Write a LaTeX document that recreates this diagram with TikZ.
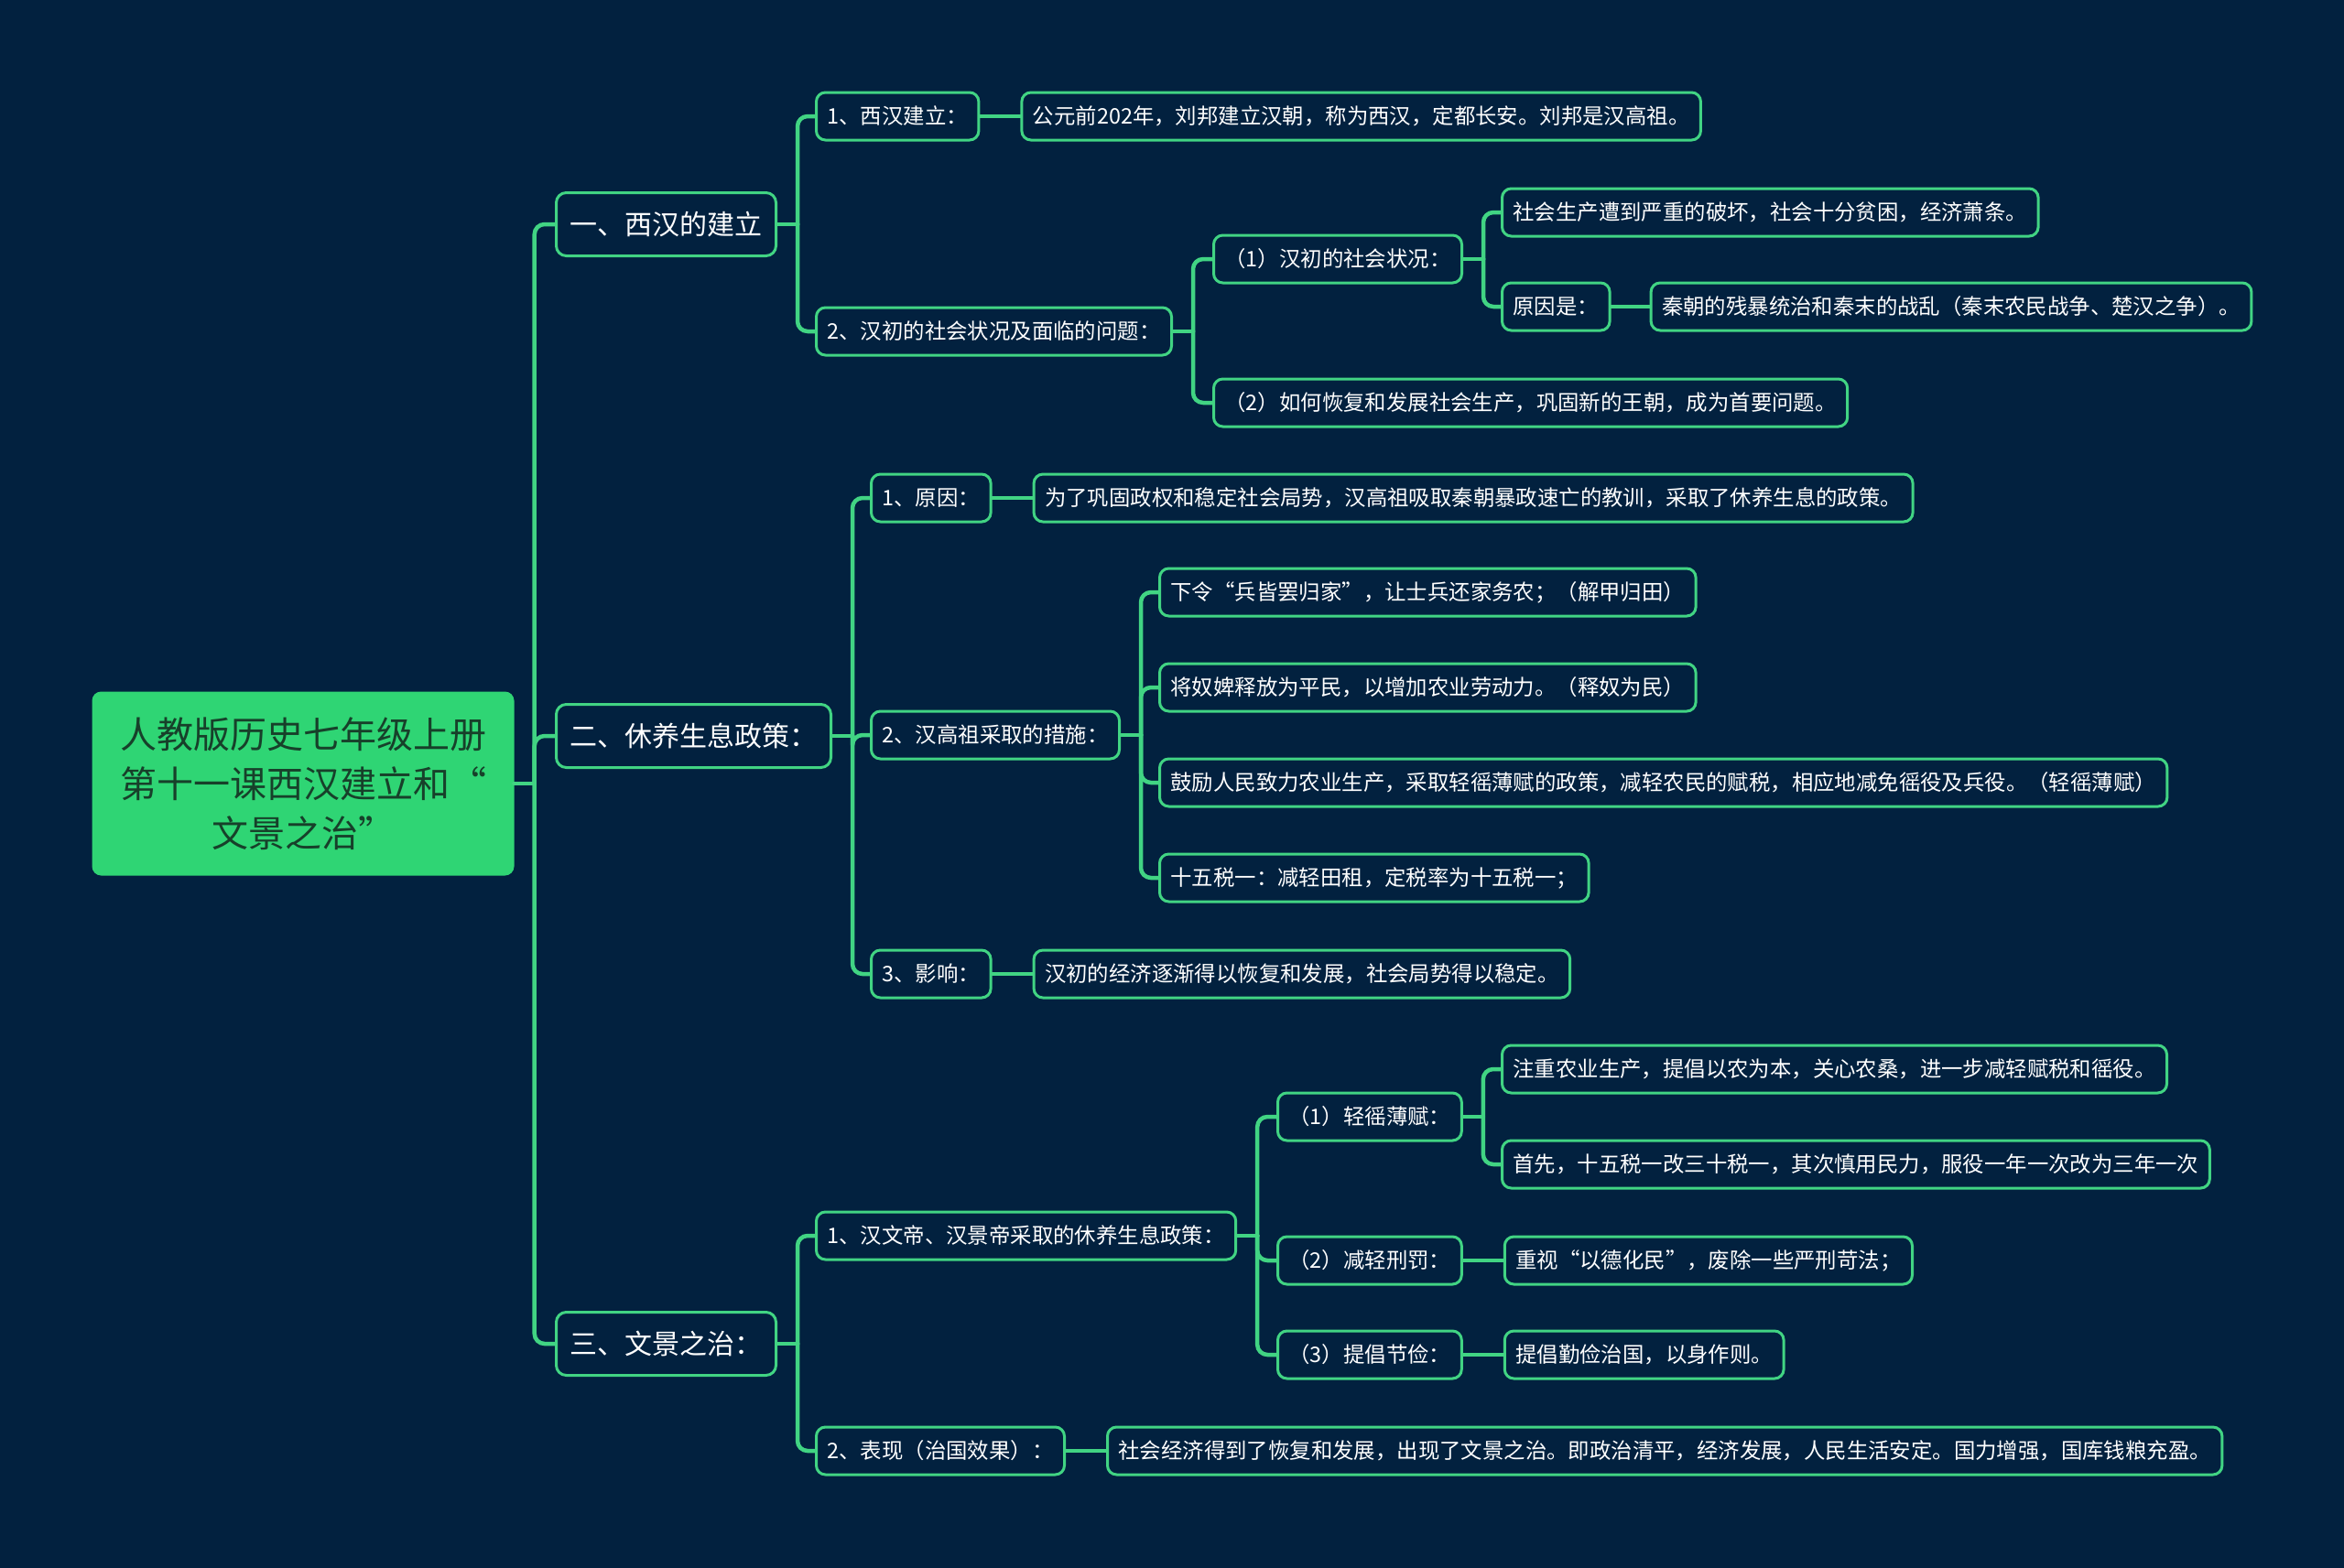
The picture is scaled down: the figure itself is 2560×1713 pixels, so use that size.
\documentclass[tikz,border=0pt]{standalone}
\usepackage{fontspec}
\setmainfont{Noto Sans CJK SC}
\usepackage{xcolor}
\usepackage{tikz}
\usetikzlibrary{positioning}

\definecolor{bgnavy}{HTML}{02213F}
\definecolor{linegreen}{HTML}{41D483}
\definecolor{rootgreen}{HTML}{2FD574}
\definecolor{rootink}{HTML}{17402A}

% connector from a parent to one child, rounded only where it meets the child
\newcommand{\twig}[2]{%
  \draw[mapline] (#1.east) -- ++(22,0) coordinate (jn);
  \draw[mapline,rounded corners=11pt] (jn) |- (#2.west);}

\begin{document}
\begin{tikzpicture}[x=1pt,y=-1pt,node distance=44pt,
  mapline/.style={draw=linegreen,line width=4.5pt,line cap=round},
  rootbox/.style={fill=rootgreen,text=rootink,rounded corners=10pt,align=center,
    minimum width=461pt,minimum height=201pt,font=\fontsize{40}{54}\selectfont},
  topicbox/.style={draw=linegreen,line width=3pt,fill=bgnavy,text=white,rounded corners=11pt,
    minimum height=69pt,inner xsep=15pt,anchor=west,font=\fontsize{30}{36}\selectfont},
  itembox/.style={draw=linegreen,line width=3pt,fill=bgnavy,text=white,rounded corners=10pt,
    minimum height=52pt,inner xsep=12pt,anchor=west,font=\fontsize{23.4}{28}\selectfont}]
  \fill[bgnavy] (0,0) rectangle (2560,1713);
  \useasboundingbox (0,0) rectangle (2560,1713);

  \node[rootbox] (root) at (331,856) {人教版历史七年级上册\\第十一课西汉建立和“\\文景之治”};

  \node[topicbox] (t1) at (606,245) {一、西汉的建立};
  \node[topicbox] (t2) at (606,804) {二、休养生息政策：};
  \node[topicbox] (t3) at (606,1468) {三、文景之治：};

  % 一、西汉的建立
  \node[itembox] (a1) at (890,127) {1、西汉建立：};
  \node[itembox,right=of a1] (a1x) {公元前202年，刘邦建立汉朝，称为西汉，定都长安。刘邦是汉高祖。};
  \node[itembox] (a2) at (890,362) {2、汉初的社会状况及面临的问题：};
  \node[itembox] (b1) at (1324,283) {（1）汉初的社会状况：};
  \node[itembox] (b2) at (1324,440) {（2）如何恢复和发展社会生产，巩固新的王朝，成为首要问题。};
  \node[itembox] (c1) at (1639,232) {社会生产遭到严重的破坏，社会十分贫困，经济萧条。};
  \node[itembox] (c2) at (1639,335) {原因是：};
  \node[itembox,right=42pt of c2] (c2x) {秦朝的残暴统治和秦末的战乱（秦末农民战争、楚汉之争）。};

  % 二、休养生息政策
  \node[itembox] (d1) at (950,544) {1、原因：};
  \node[itembox,right=of d1] (d1x) {为了巩固政权和稳定社会局势，汉高祖吸取秦朝暴政速亡的教训，采取了休养生息的政策。};
  \node[itembox] (d2) at (950,803) {2、汉高祖采取的措施：};
  \node[itembox] (e1) at (1265,647) {下令“兵皆罢归家”，让士兵还家务农；（解甲归田）};
  \node[itembox] (e2) at (1265,751) {将奴婢释放为平民，以增加农业劳动力。（释奴为民）};
  \node[itembox] (e3) at (1265,855) {鼓励人民致力农业生产，采取轻徭薄赋的政策，减轻农民的赋税，相应地减免徭役及兵役。（轻徭薄赋）};
  \node[itembox] (e4) at (1265,959) {十五税一：减轻田租，定税率为十五税一；};
  \node[itembox] (d3) at (950,1064) {3、影响：};
  \node[itembox,right=of d3] (d3x) {汉初的经济逐渐得以恢复和发展，社会局势得以稳定。};

  % 三、文景之治
  \node[itembox] (f1) at (890,1350) {1、汉文帝、汉景帝采取的休养生息政策：};
  \node[itembox] (g1) at (1394,1220) {（1）轻徭薄赋：};
  \node[itembox] (h1) at (1639,1168) {注重农业生产，提倡以农为本，关心农桑，进一步减轻赋税和徭役。};
  \node[itembox] (h2) at (1639,1272) {首先，十五税一改三十税一，其次慎用民力，服役一年一次改为三年一次};
  \node[itembox] (g2) at (1394,1377) {（2）减轻刑罚：};
  \node[itembox,right=of g2] (h3) {重视“以德化民”，废除一些严刑苛法；};
  \node[itembox] (g3) at (1394,1480) {（3）提倡节俭：};
  \node[itembox,right=of g3] (h4) {提倡勤俭治国，以身作则。};
  \node[itembox] (f2) at (890,1585) {2、表现（治国效果）：};
  \node[itembox,right=of f2] (f2x) {社会经济得到了恢复和发展，出现了文景之治。即政治清平，经济发展，人民生活安定。国力增强，国库钱粮充盈。};

  % connectors
  \twig{root}{t1} \twig{root}{t2} \twig{root}{t3}
  \twig{t1}{a1} \twig{t1}{a2}
  \twig{a2}{b1} \twig{a2}{b2}
  \twig{b1}{c1} \twig{b1}{c2}
  \twig{t2}{d1} \twig{t2}{d2} \twig{t2}{d3}
  \twig{d2}{e1} \twig{d2}{e2} \twig{d2}{e3} \twig{d2}{e4}
  \twig{t3}{f1} \twig{t3}{f2}
  \twig{f1}{g1} \twig{f1}{g2} \twig{f1}{g3}
  \twig{g1}{h1} \twig{g1}{h2}
  \draw[mapline] (a1) -- (a1x);
  \draw[mapline] (c2) -- (c2x);
  \draw[mapline] (d1) -- (d1x);
  \draw[mapline] (d3) -- (d3x);
  \draw[mapline] (g2) -- (h3);
  \draw[mapline] (g3) -- (h4);
  \draw[mapline] (f2) -- (f2x);
\end{tikzpicture}
\end{document}
